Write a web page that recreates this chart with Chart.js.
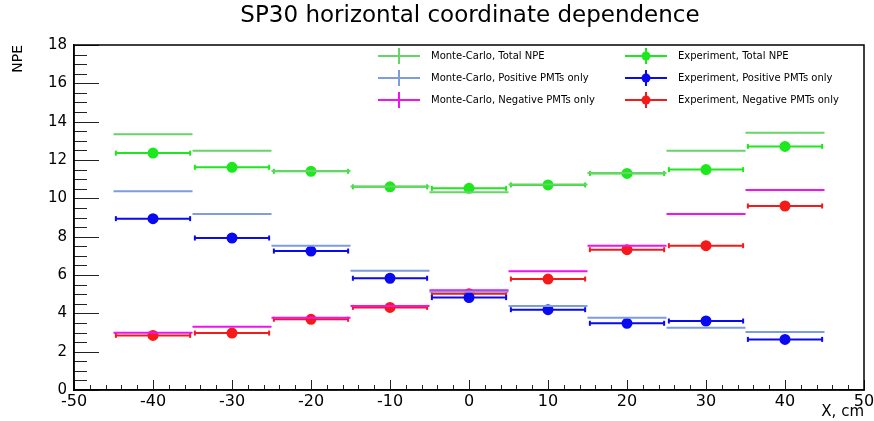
<!DOCTYPE html>
<html>
<head>
<meta charset="utf-8">
<script src="https://cdn.jsdelivr.net/npm/chart.js@4.4.1/dist/chart.umd.min.js"></script>
<style>
  body { margin:0; background:#fff; }
  #wrap { width:874px; height:421px; }
</style>
</head>
<body>
<div id="wrap"><canvas id="chart" width="874" height="421"></canvas></div>
<script>
// ============================================================
// SP30 horizontal coordinate dependence
// ============================================================

const xCenters    = [-40, -30, -20, -10, 0, 10, 20, 30, 40];
const mcTotal     = [13.35, 12.48, 11.42, 10.62, 10.32, 10.72, 11.32, 12.48, 13.42];
const expTotal    = [12.36, 11.62, 11.41, 10.60, 10.52, 10.70, 11.30, 11.50, 12.71];
const mcPositive  = [10.37, 9.18, 7.53, 6.22, 5.12, 4.38, 3.77, 3.25, 3.03];
const expPositive = [8.94, 7.93, 7.25, 5.83, 4.82, 4.19, 3.48, 3.60, 2.64];
const mcNegative  = [2.99, 3.30, 3.77, 4.38, 5.20, 6.20, 7.53, 9.18, 10.43];
const expNegative = [2.85, 2.97, 3.69, 4.31, 5.02, 5.79, 7.32, 7.53, 9.60];
const mcHalfBin   = 5;    // MC bins, cm
const expXErr     = 4.7;  // experiment x error, cm
const xTicks      = [-50, -40, -30, -20, -10, 0, 10, 20, 30, 40, 50];
const yTicks      = [0, 2, 4, 6, 8, 10, 12, 14, 16, 18];

const FONT = 'DejaVu Sans';

// horizontal bars: left edge, centre, right edge, then a gap
function bars(vals, half) {
  const pts = [];
  vals.forEach((v, i) => {
    const x = xCenters[i];
    pts.push({ x: x - half, y: v, role: 'e' });
    pts.push({ x: x, y: v, role: 'c' });
    pts.push({ x: x + half, y: v, role: 'e' });
    pts.push({ x: x + half, y: null, role: 'g' });
  });
  return pts;
}

function mcSet(label, vals, color) {
  return {
    label, data: bars(vals, mcHalfBin), borderColor: color, backgroundColor: color,
    borderWidth: 2, pointRadius: 0, spanGaps: false, kind: 'mc'
  };
}
function expSet(label, vals, color) {
  return {
    label, data: bars(vals, expXErr), borderColor: color, backgroundColor: color,
    borderWidth: 2, spanGaps: false, kind: 'exp',
    pointRadius: c => c.raw && c.raw.role === 'c' ? 4.5 : (c.raw && c.raw.role === 'e' ? 2.5 : 0),
    pointStyle: c => c.raw && c.raw.role === 'e' ? 'line' : 'circle',
    pointRotation: c => c.raw && c.raw.role === 'e' ? 90 : 0,
    pointBorderWidth: 2
  };
}

const datasets = [
  mcSet('Monte-Carlo, Total NPE', mcTotal, '#66d466'),
  expSet('Experiment, Total NPE', expTotal, '#1de81d'),
  mcSet('Monte-Carlo, Positive PMTs only', mcPositive, '#7d9ddc'),
  expSet('Experiment, Positive PMTs only', expPositive, '#0a0af0'),
  mcSet('Monte-Carlo, Negative PMTs only', mcNegative, '#f012f0'),
  expSet('Experiment, Negative PMTs only', expNegative, '#f51a1a'),
];

// ROOT style frame + inner tick marks
const frameTicks = {
  id: 'frameTicks',
  afterLayout(chart) {
    // ROOT centres the title a bit right of the canvas middle
    if (chart.titleBlock) chart.titleBlock.left = 66;
  },
  afterDraw(chart) {
    const { ctx, chartArea: a, scales: { x, y } } = chart;
    ctx.save();
    ctx.strokeStyle = '#222';
    ctx.lineWidth = 1;
    ctx.beginPath();
    for (let v = 0; v <= 18.001; v += 0.5) {
      const py = Math.round(y.getPixelForValue(v)) + 0.5;
      const len = Math.abs(v % 2) < 1e-6 ? 25 : 13;
      ctx.moveTo(a.left, py); ctx.lineTo(a.left + len, py);
    }
    for (let v = -50; v <= 50; v += 2) {
      const px = Math.round(x.getPixelForValue(v)) + 0.5;
      const len = v % 10 === 0 ? 10 : 5;
      ctx.moveTo(px, a.bottom); ctx.lineTo(px, a.bottom - len);
    }
    ctx.stroke();
    ctx.lineWidth = 1.5;
    ctx.strokeStyle = '#000';
    ctx.strokeRect(a.left, a.top, a.right - a.left, a.bottom - a.top);
    ctx.restore();
  }
};

// two column legend like the ROOT TLegend
const rootLegend = {
  id: 'rootLegend',
  afterDraw(chart) {
    const { ctx } = chart;
    const cols = [378, 625], rows = [56, 78, 100];
    ctx.save();
    ctx.font = '10px ' + FONT;
    ctx.textBaseline = 'middle';
    chart.data.datasets.forEach((ds, i) => {
      const x0 = cols[i % 2], yy = rows[Math.floor(i / 2)];
      ctx.strokeStyle = ds.borderColor; ctx.fillStyle = ds.borderColor;
      ctx.lineWidth = 2;
      ctx.beginPath();
      ctx.moveTo(x0, yy); ctx.lineTo(x0 + 42, yy);
      ctx.moveTo(x0 + 21, yy - 8); ctx.lineTo(x0 + 21, yy + 8);
      ctx.stroke();
      if (ds.kind === 'exp') {
        ctx.beginPath(); ctx.arc(x0 + 21, yy, 4.5, 0, Math.PI * 2); ctx.fill();
      }
      ctx.fillStyle = '#000';
      ctx.fillText(ds.label, x0 + 53, yy);
    });
    ctx.restore();
  }
};

new Chart(document.getElementById('chart').getContext('2d'), {
  type: 'line',
  data: { datasets },
  plugins: [frameTicks, rootLegend],
  options: {
    responsive: false, animation: false, events: [],
    layout: { padding: { left: 0, right: 0, top: 0, bottom: 0 } },
    plugins: {
      legend: { display: false }, tooltip: { enabled: false },
      title: { display: true, text: 'SP30 horizontal coordinate dependence', color: '#000',
               font: { family: FONT, size: 23, weight: 'normal' }, padding: { top: 2, bottom: 15.4 } }
    },
    scales: {
      x: {
        type: 'linear', min: -50, max: 50,
        afterBuildTicks: s => { s.ticks = xTicks.map(v => ({ value: v })); },
        afterFit: s => { s.height = 31; s.paddingRight = 10; s.paddingLeft = 0; },
        ticks: { color: '#000', font: { family: FONT, size: 16 }, padding: 2, maxRotation: 0 },
        grid: { display: false, drawTicks: false },
        border: { display: true, color: '#000', width: 1.5 },
        title: { display: true, text: 'X, cm', align: 'end', color: '#000',
                 font: { family: FONT, size: 15 }, padding: 0 }
      },
      y: {
        min: 0, max: 18,
        afterBuildTicks: s => { s.ticks = yTicks.map(v => ({ value: v })); },
        afterFit: s => { s.width = 74; },
        ticks: { color: '#000', font: { family: FONT, size: 15 }, padding: 7 },
        grid: { display: false, drawTicks: false },
        border: { display: true, color: '#000', width: 1.5 },
        title: { display: true, text: 'NPE', align: 'end', color: '#000',
                 font: { family: FONT, size: 14 }, padding: { top: 10, bottom: 0 } }
      }
    }
  }
});
</script>
</body>
</html>
